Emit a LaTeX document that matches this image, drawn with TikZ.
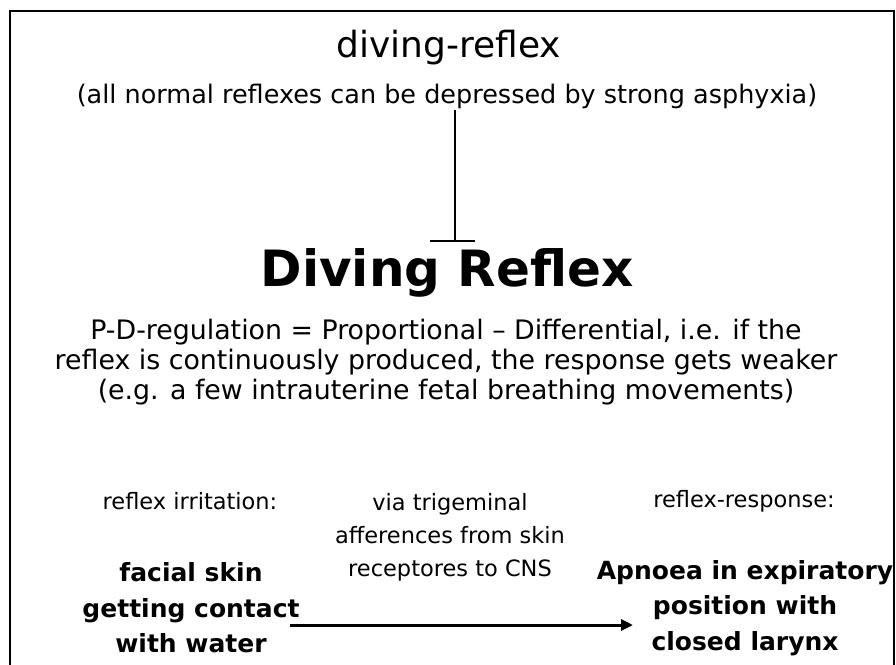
\documentclass[tikz,border=0pt]{standalone}
\usepackage{fontspec}
\setmainfont{DejaVu Sans}
\usetikzlibrary{positioning,arrows.meta}

\tikzset{
  plain/.style={align=center, inner sep=0pt, font=\fontsize{26.8}{30}\selectfont},
  small/.style={align=center, inner sep=0pt, font=\fontsize{22.5}{33}\selectfont},
  boldtxt/.style={align=center, inner sep=0pt, font=\fontsize{25}{35.5}\selectfont\bfseries},
}

\begin{document}
\begin{tikzpicture}[x=1pt, y=-1pt]
  \useasboundingbox (0,0) rectangle (896,664);
  \begin{scope}
    \clip (0,0) rectangle (896,664);
    \draw[line width=1.8pt] (10,11) rectangle (894,700);
  \end{scope}

  \node[plain, font=\fontsize{36}{30}\selectfont] (title) at (449,48) {diving-reflex};
  \node[plain, font=\fontsize{25.5}{30}\selectfont] (note) at (447,96) {(all normal reflexes can be depressed by strong asphyxia)};
  \coordinate (top) at (455,110);
  \coordinate (bar) at (455,241);

  \node[plain, font=\fontsize{50}{50}\selectfont\bfseries] (dr) at (447,273) {Diving Reflex};
  \node[plain] (pd) at (446,362) {P-D-regulation = Proportional -- Differential, i.e. if the\\
    reflex is continuously produced, the response gets weaker\\
    (e.g. a few intrauterine fetal breathing movements)};

  \node[small] (irr) at (190,501) {reflex irritation:};
  \node[small] (via) at (450,537) {via trigeminal\\afferences from skin\\receptores to CNS};
  \node[small] (resp) at (744,501) {reflex-response:};

  \node[boldtxt] (skin) at (191,608) {facial skin\\getting contact\\with water};
  \node[boldtxt] (apn) at (745,608) {Apnoea in expiratory\\position with\\closed larynx};

  \coordinate (a0) at (290,625);
  \coordinate (a1) at (633,625);

  \draw[line width=1.4pt] (top) -- (bar);
  \draw[line width=1.4pt] ([xshift=-25pt]bar) -- ([xshift=20pt]bar);
  \draw[line width=3pt, -{Triangle[length=12pt, width=11pt]}] (a0) -- (a1);
\end{tikzpicture}
\end{document}
